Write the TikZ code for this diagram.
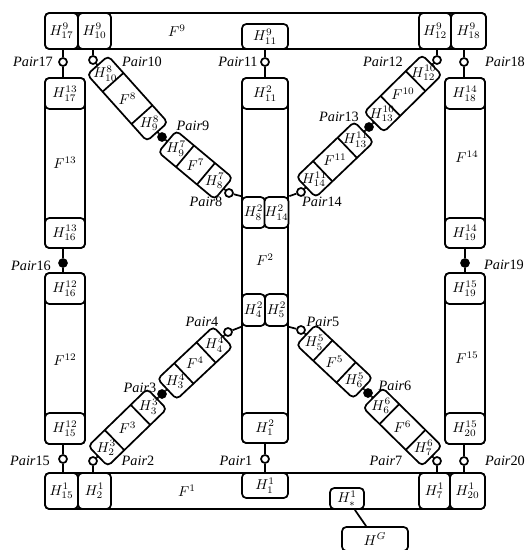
\documentclass[tikz,border=0pt]{standalone}
\usepackage{fontspec}
\setmainfont{Liberation Serif}
\usetikzlibrary{calc}
\newcommand{\pxu}{0.7pt}
\tikzset{
  body/.style={draw,line width=1.2pt,rounded corners=3pt},
  cell/.style={draw,line width=1.2pt,rounded corners=3pt,inner sep=0pt,fill=white},
  stem/.style={line width=1.2pt},
  openj/.style={circle,draw,line width=1.2pt,fill=white,inner sep=0pt,minimum size=8*\pxu},
  fullj/.style={circle,draw,fill=black,inner sep=0pt,minimum size=9*\pxu},
  pairlbl/.style={inner sep=0pt}
}
\begin{document}
\begin{tikzpicture}[x=\pxu,y=-\pxu]
\useasboundingbox (0,0) rectangle (526,550);
% bars and columns
\draw[body] (45,13) rectangle (486,49);
\draw[body] (45,473) rectangle (485,509);
\foreach \xa/\ya/\xb/\yb in {45/78/85/248,45/273/85/444,445/78/485/248,445/273/485/444,242/78/288/443}
  \draw[body] (\xa,\ya) rectangle (\xb,\yb);
% H cells on bars and columns
\foreach \nm/\x/\y/\w/\h/\txt in {
  h9-17/61.5/31/33/36/{H^{9}_{17}}, h9-10/94.5/31/33/36/{H^{9}_{10}}, h9-11/265/36.5/46/25/{H^{9}_{11}},
  h9-12/435/31/32/36/{H^{9}_{12}}, h9-18/468.5/31/35/36/{H^{9}_{18}},
  h1-15/61.5/491/33/36/{H^{1}_{15}}, h1-2/94.5/491/33/36/{H^{1}_{2}}, h1-1/265/485.5/46/25/{H^{1}_{1}},
  h1-s/347/498.5/34/21/{H^{1}_{*}}, h1-7/434.5/491/31/36/{H^{1}_{7}}, h1-20/467.5/491/35/36/{H^{1}_{20}},
  h13-17/65/93.5/40/31/{H^{13}_{17}}, h13-16/65/233/40/30/{H^{13}_{16}},
  h12-16/65/288.5/40/31/{H^{12}_{16}}, h12-15/65/428.5/40/31/{H^{12}_{15}},
  h14-18/465/93.5/40/31/{H^{14}_{18}}, h14-19/465/233/40/30/{H^{14}_{19}},
  h15-19/465/288.5/40/31/{H^{15}_{19}}, h15-20/465/428.5/40/31/{H^{15}_{20}},
  h2-11/265/93.5/46/31/{H^{2}_{11}}, h2-8/253.5/212.5/23/31/{H^{2}_{8}}, h2-14/276.5/212.5/23/31/{H^{2}_{14}},
  h2-4/253.5/310/23/32/{H^{2}_{4}}, h2-5/276.5/310/23/32/{H^{2}_{5}}, h2-1/265/428/46/30/{H^{2}_{1}},
  hg/375/539/66/24/{H^{G}}}
  \node[cell,minimum width=\w*\pxu,minimum height=\h*\pxu] (\nm) at (\x,\y) {$\txt$};
% F labels
\foreach \nm/\x/\y/\txt in {f9/177/31/9, f1/187/491/1, f13/65/163/13, f12/65/360/12,
  f14/467/157/14, f15/467/358/15, f2/265/260/2}
  \node (\nm) at (\x,\y) {$F^{\txt}$};
% diagonal links: F index / first H / last H / joint a / joint b
\foreach \f/\a/\b/\ax/\ay/\bx/\by in {8/10/9/93/60/162/137, 7/9/8/162/137/229/193,
  10/12/13/437/60/369/127, 11/13/14/369/127/301/192, 3/2/3/93/461/162/394,
  4/3/4/162/394/228/332, 5/5/6/301/330/368/393, 6/6/7/368/393/437/461}{
  \pgfmathsetmacro\ang{atan2(\ay-\by,\bx-\ax)}
  \pgfmathsetmacro\len{veclen(\bx-\ax,\by-\ay)-14}
  \begin{scope}[shift={({(\ax+\bx)/2},{(\ay+\by)/2})},rotate=\ang]
    \draw[body] (-\len/2,-14) rectangle (\len/2,14);
    \draw[stem] (-\len/2+23,-14) -- (-\len/2+23,14) (\len/2-23,-14) -- (\len/2-23,14);
    \coordinate (l\f a) at (-\len/2,0);
    \coordinate (l\f b) at (\len/2,0);
    \node (h\f-\a) at (-\len/2+11.5,0) {$H^{\f}_{\a}$};
    \node (f\f) at (0,0) {$F^{\f}$};
    \node (h\f-\b) at (\len/2-11.5,0) {$H^{\f}_{\b}$};
  \end{scope}
}
% joints
\foreach \n/\x/\y in {17/63/62, 10/93/60, 11/265/62, 12/437/60, 18/464/62, 8/229/193, 14/301/192,
  4/228/332, 5/301/330, 15/63/459, 2/93/461, 1/265/459, 7/437/461, 20/464/461}
  \node[openj] (p\n) at (\x,\y) {};
\foreach \n/\x/\y in {9/162/137, 13/369/127, 16/63/263, 19/465/263, 3/162/394, 6/368/393}
  \node[fullj] (p\n) at (\x,\y) {};
\foreach \n/\x/\y in {17/33/62, 10/142/62, 11/238/62, 12/383/62, 18/505/62, 9/193/126, 13/339/117,
  8/206/202, 14/322/202, 16/31/266, 19/504/265, 4/202/322, 5/323/322, 3/140/388, 6/395/386,
  15/30/461, 2/138/461, 1/236/461, 7/386/461, 20/505/461}
  \node[pairlbl] (t\n) at (\x,\y) {\textit{Pair}\n};
% stems
\draw[stem] (p17) -- (p17 |- h9-17.south) (p17) -- (p17 |- h13-17.north);
\draw[stem] (p10) -- (p10 |- h9-10.south) (p10) -- (l8a);
\draw[stem] (p11) -- (p11 |- h9-11.south) (p11) -- (p11 |- h2-11.north);
\draw[stem] (p12) -- (p12 |- h9-12.south) (p12) -- (l10a);
\draw[stem] (p18) -- (p18 |- h9-18.south) (p18) -- (p18 |- h14-18.north);
\draw[stem] (l8b) -- (p9) -- (l7a);
\draw[stem] (l7b) -- (p8) -- (h2-8.north west);
\draw[stem] (l10b) -- (p13) -- (l11a);
\draw[stem] (l11b) -- (p14) -- (h2-14.north east);
\draw[stem] (p16 |- h13-16.south) -- (p16) -- (p16 |- h12-16.north);
\draw[stem] (p19 |- h14-19.south) -- (p19) -- (p19 |- h15-19.north);
\draw[stem] (l4b) -- (p4) -- (h2-4.south west);
\draw[stem] (l5a) -- (p5) -- (h2-5.south east);
\draw[stem] (l3b) -- (p3) -- (l4a);
\draw[stem] (l5b) -- (p6) -- (l6a);
\draw[stem] (p15 |- h12-15.south) -- (p15) -- (p15 |- h1-15.north);
\draw[stem] (l3a) -- (p2) -- (p2 |- h1-2.north);
\draw[stem] (h2-1.south) -- (p1) -- (h1-1.north);
\draw[stem] (l6b) -- (p7) -- (p7 |- h1-7.north);
\draw[stem] (p20 |- h15-20.south) -- (p20) -- (p20 |- h1-20.north);
\draw[stem] (h1-s) -- (hg);
\end{tikzpicture}
\end{document}
